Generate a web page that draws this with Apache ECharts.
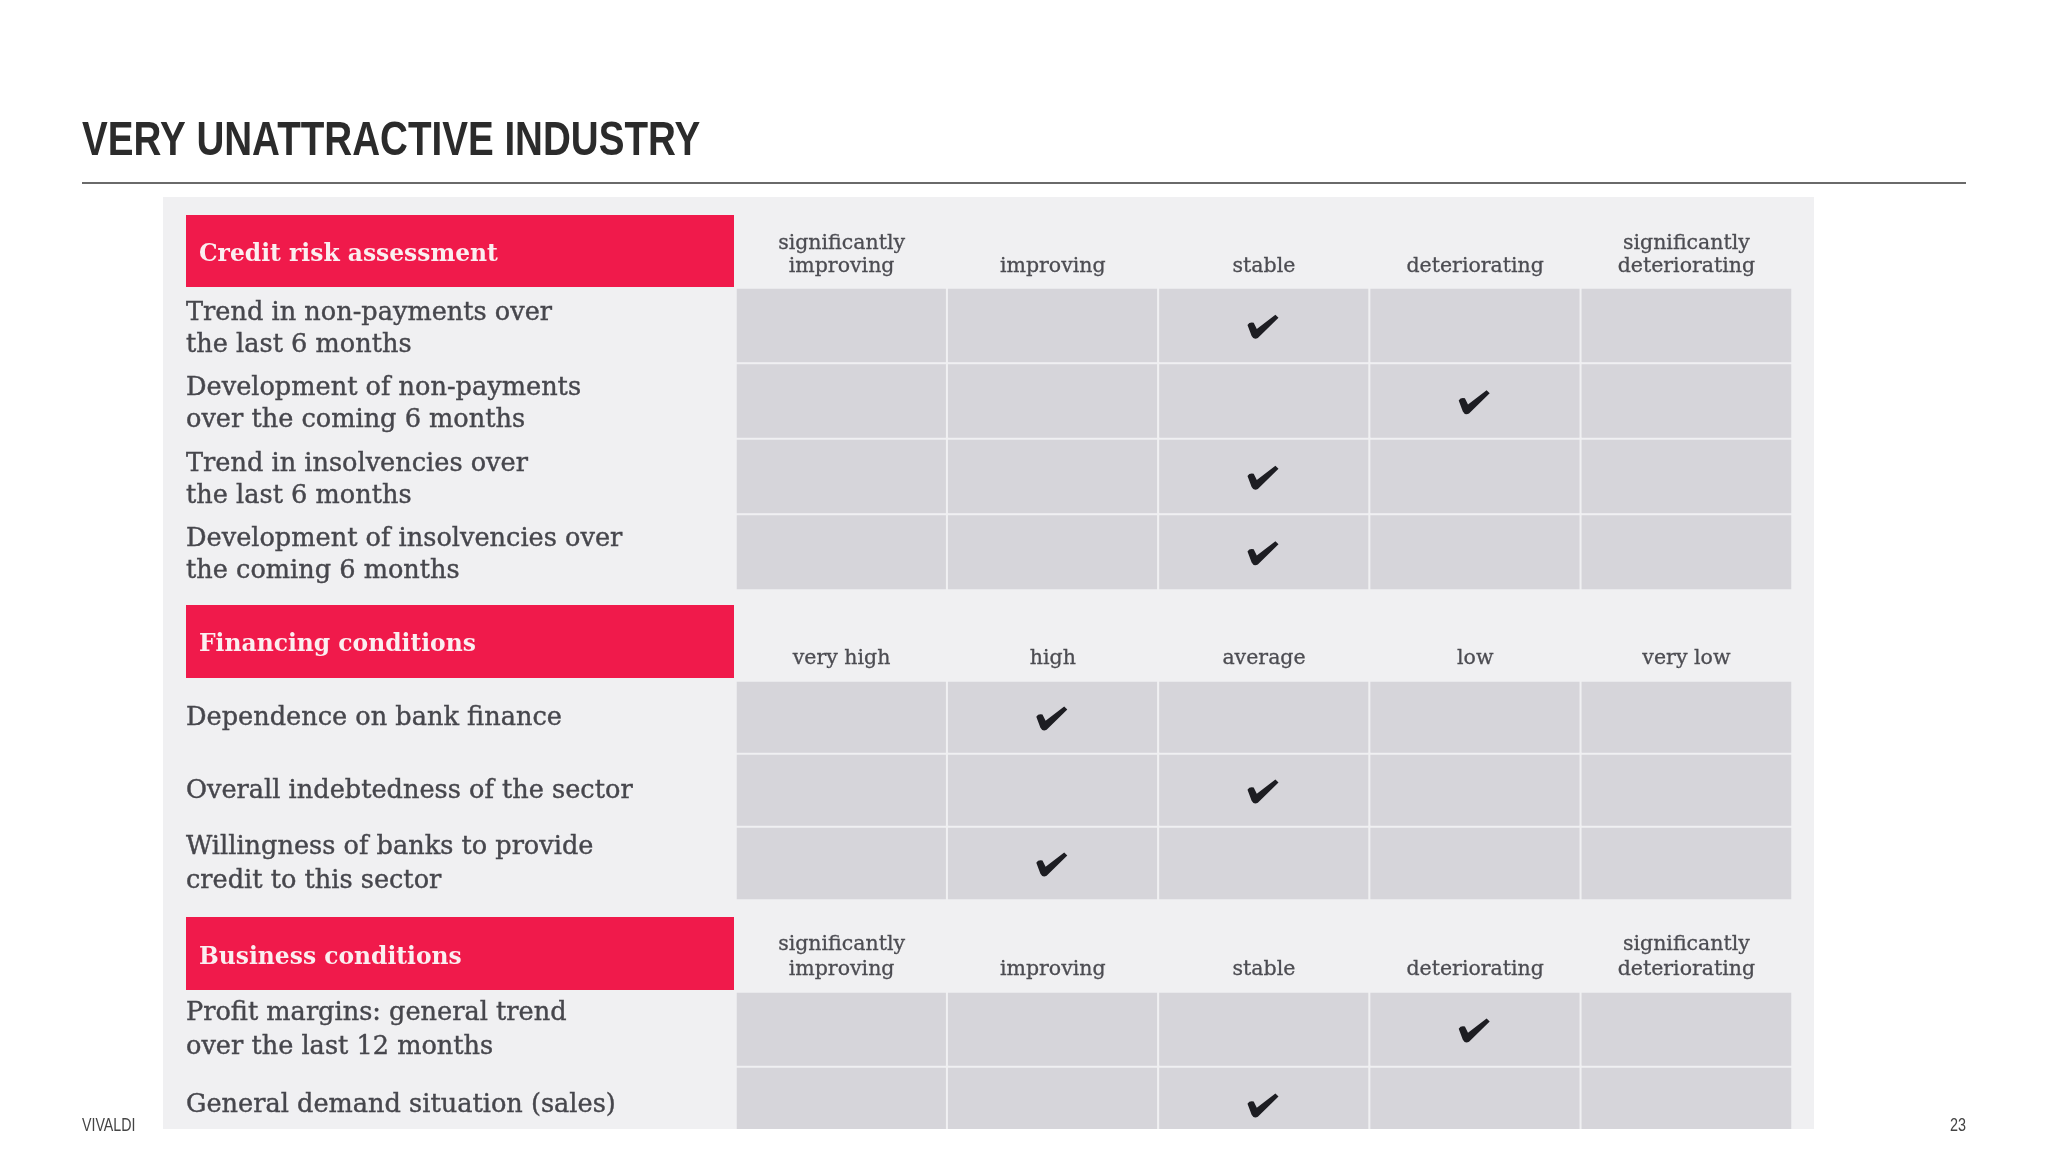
<!DOCTYPE html>
<html lang="en">
<head>
    <meta charset="utf-8">
    <title>Very unattractive industry</title>
    <script src="https://cdn.jsdelivr.net/npm/echarts@6/dist/echarts.min.js"></script>
    <style>
        html, body { margin: 0; padding: 0; background: #fff; }
    </style>
</head>
<body>
    <div id="main" style="width: 2048px;height:1152px;"></div>
    <script type="text/javascript">
        var titleText = 'VERY UNATTRACTIVE INDUSTRY';
        var footerLeft = 'VIVALDI';
        var footerRight = '23';

        var trendCols = ['significantly\nimproving', 'improving', 'stable', 'deteriorating', 'significantly\ndeteriorating'];
        var levelCols = ['very high', 'high', 'average', 'low', 'very low'];

        var creditHead = 'Credit risk assessment';
        var creditRows = [
            'Trend in non-payments over\nthe last 6 months',
            'Development of non-payments\nover the coming 6 months',
            'Trend in insolvencies over\nthe last 6 months',
            'Development of insolvencies over\nthe coming 6 months'
        ];
        var creditChecks = [2, 3, 2, 2];

        var financeHead = 'Financing conditions';
        var financeRows = [
            'Dependence on bank finance',
            'Overall indebtedness of the sector',
            'Willingness of banks to provide\ncredit to this sector'
        ];
        var financeChecks = [1, 2, 1];

        var businessHead = 'Business conditions';
        var businessRows = [
            'Profit margins: general trend\nover the last 12 months',
            'General demand situation (sales)'
        ];
        var businessChecks = [3, 2];

        var serif = '"DejaVu Serif"';
        var sans = '"Liberation Sans"';
        var checkPath = 'path://M1,10 Q3,7 7,8 L10,14 L28,0 L31,3 L11,23 Q7,25 5,21 Z';

        // one table block: grey cells plus the ticks
        function cells(cols, rows) {
            var out = [];
            for (var y = 0; y < rows.length; y++) {
                for (var x = 0; x < cols.length; x++) {
                    out.push([x, y, 1]);
                }
            }
            return out;
        }

        var blocks = [
            { cols: trendCols, rows: creditRows, checks: creditChecks, top: 288, height: 302, margin: 10, colLine: 23, rowLine: 32, rowPad: 7 },
            { cols: levelCols, rows: financeRows, checks: financeChecks, top: 681, height: 219, margin: 11, colLine: 23, rowLine: 34, rowPad: 2 },
            { cols: trendCols, rows: businessRows, checks: businessChecks, top: 992, height: 150, margin: 10, colLine: 25, rowLine: 34, rowPad: 2 }
        ];

        var grids = [], xAxes = [], yAxes = [], series = [];
        blocks.forEach(function (b, i) {
            grids.push({ left: 736, width: 1056, top: b.top, height: b.height });
            xAxes.push({
                type: 'category', gridIndex: i, position: 'top', data: b.cols,
                axisLine: { show: false }, axisTick: { show: false }, splitLine: { show: false },
                axisLabel: {
                    interval: 0, margin: b.margin, color: '#4c4c52', fontFamily: serif, fontSize: 20.5, lineHeight: b.colLine,
                    textBorderColor: '#4c4c52', textBorderWidth: 0.3
                }
            });
            yAxes.push({
                type: 'category', gridIndex: i, inverse: true, data: b.rows,
                axisLine: { show: false }, axisTick: { show: false }, splitLine: { show: false },
                axisLabel: {
                    interval: 0, margin: 550, align: 'left',
                    // rich padding nudges the lines down inside their row
                    formatter: function (v) {
                        return v.split('\n').map(function (s) { return '{t|' + s + '}'; }).join('\n');
                    },
                    rich: {
                        t: {
                            color: '#46464c', fontFamily: serif, fontSize: 25.6, lineHeight: b.rowLine,
                            padding: [b.rowPad, 0, 0, 0], textBorderColor: '#46464c', textBorderWidth: 0.4
                        }
                    }
                }
            });
            series.push({
                type: 'heatmap', xAxisIndex: i, yAxisIndex: i, data: cells(b.cols, b.rows),
                itemStyle: { color: '#d6d5da', borderColor: '#f0f0f2', borderWidth: 2 },
                emphasis: { disabled: true }, silent: true
            });
            series.push({
                type: 'scatter', xAxisIndex: i, yAxisIndex: i, z: 5, silent: true,
                data: b.checks.map(function (c, y) { return [c, y]; }),
                symbol: checkPath, symbolSize: [31, 24], symbolOffset: [-1, 1],
                itemStyle: { color: '#1d1d22', opacity: 1 }
            });
        });

        function redHead(top, height) {
            return { type: 'rect', z: 1, shape: { x: 186, y: top, width: 548, height: height }, style: { fill: '#f01a4b' } };
        }

        function headText(text, y) {
            return {
                type: 'text', z: 2, x: 199, y: y,
                style: { text: text, fill: '#fbeef0', font: 'bold 23.4px ' + serif, verticalAlign: 'middle' }
            };
        }

        var myChart = echarts.init(document.getElementById('main'));
        myChart.setOption({
            backgroundColor: '#ffffff',
            animation: false,
            tooltip: { show: false },
            grid: grids,
            xAxis: xAxes,
            yAxis: yAxes,
            series: series,
            graphic: [
                { type: 'rect', z: 0, shape: { x: 163, y: 197, width: 1651, height: 932 }, style: { fill: '#f0f0f2' } },
                { type: 'line', z: 1, shape: { x1: 82, y1: 183, x2: 1966, y2: 183 }, style: { stroke: '#6a6a6a', lineWidth: 2 } },
                { type: 'text', z: 1, x: 82, y: 118, scaleX: 0.804, style: { text: titleText, fill: '#2b2b2b', font: 'bold 48px ' + sans } },
                redHead(215, 72),
                redHead(605, 73),
                redHead(917, 73),
                headText(creditHead, 255),
                headText(financeHead, 645),
                headText(businessHead, 958),
                // the picture is cut off at the bottom of the panel
                { type: 'rect', z: 100, shape: { x: 163, y: 1129, width: 1651, height: 23 }, style: { fill: '#ffffff' } },
                { type: 'text', z: 101, x: 82, y: 1117, scaleX: 0.79, style: { text: footerLeft, fill: '#444', font: '18px ' + sans } },
                { type: 'text', z: 101, x: 1966, y: 1117, scaleX: 0.8, style: { text: footerRight, fill: '#444', font: '18px ' + sans, textAlign: 'right' } }
            ]
        });
    </script>
</body>
</html>
